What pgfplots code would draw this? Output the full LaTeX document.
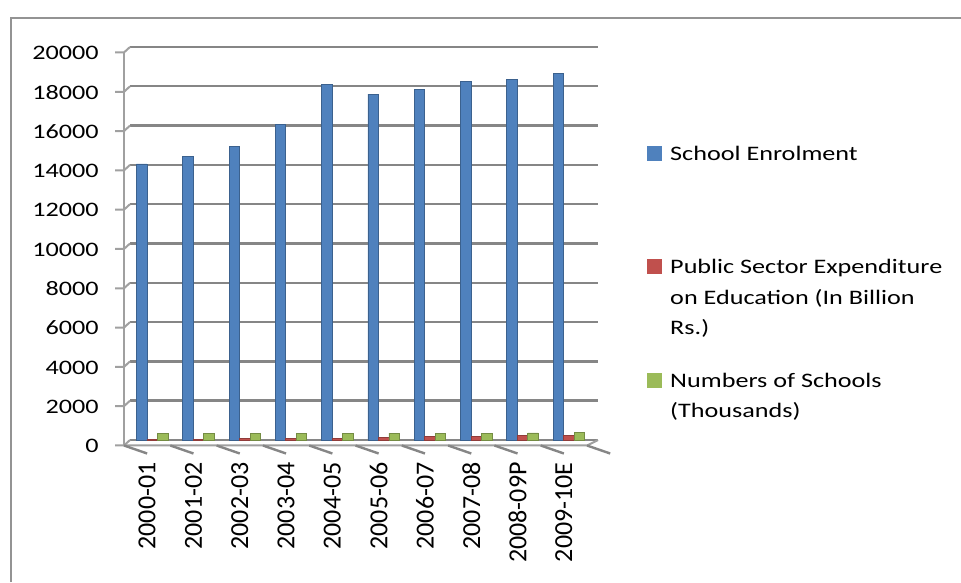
\documentclass[border=0pt]{standalone}
\usepackage{pgfplots}
\pgfplotsset{compat=1.18}
\usepackage{fontspec}
\setmainfont{Carlito}[FakeStretch=1.27]
\newfontfamily\xlabfont{Carlito}
\definecolor{eblue}{HTML}{4F81BD}
\definecolor{ered}{HTML}{C0504D}
\definecolor{egreen}{HTML}{9BBB59}
\definecolor{gridc}{RGB}{134,134,134}
\definecolor{axc}{RGB}{160,160,160}

\pgfplotstableread{
x enrol exp schools
0 14050 40 320
1 14450 50 325
2 14950 60 330
3 16050 80 335
4 18100 100 340
5 17600 120 345
6 17850 160 350
7 18250 200 355
8 18350 230 360
9 18650 250 365
}\datatable

\begin{document}
\begin{tikzpicture}
\useasboundingbox (0,0) rectangle (480.5pt,291pt);
\draw[gray!85, line width=0.8pt] (5.5pt,0) -- (5.5pt,282pt) -- (481pt,282pt);
\begin{axis}[
  at={(65pt,71pt)}, anchor=south west, scale only axis,
  width=234pt, height=196.5pt,
  xmin=-0.5, xmax=9.608, ymin=0, ymax=20000,
  clip=false,
  axis line style={draw=none},
  ytick={0,2000,4000,6000,8000,10000,12000,14000,16000,18000,20000},
  xtick={0,...,9},
  xticklabels={2000-01,2001-02,2002-03,2003-04,2004-05,2005-06,2006-07,2007-08,2008-09P,2009-10E},
  major tick length=0pt,
  tick style={draw=none},
  /pgf/number format/assume math mode=true,
  /pgf/number format/1000 sep={},
  scaled y ticks=false,
  yticklabel style={font=\fontsize{10.3}{12}\selectfont, inner sep=0pt, anchor=east, xshift=-15.5pt, yshift=-3pt},
  xticklabel style={font=\xlabfont\fontsize{13}{15}\selectfont, inner sep=0pt, xshift=-3pt, yshift=-11pt, rotate=90, anchor=east},
  ymajorgrids,
  grid style={gridc, line width=1.2pt},
  legend style={at={(1.1047,0.7532)}, anchor=north west, draw=none, fill=none, inner sep=0pt, row sep=0pt,
    nodes={anchor=base west, inner xsep=0pt, inner ysep=0pt, text height=8pt, text depth=48.75pt, font=\fontsize{10.3}{15.25}\selectfont},
    /tikz/every odd column/.append style={column sep=4pt}},
]
\addplot[ybar, bar width=5.25pt, bar shift=-5.75pt, fill=eblue, draw=eblue!75!black, line width=0.4pt,
  legend image code/.code={\fill[eblue] (0pt,0pt) rectangle (7pt,7pt);}]
  table[x=x, y=enrol] {\datatable};
\addlegendentry{\parbox[t]{150pt}{School Enrolment}}
\addplot[ybar, bar width=5.25pt, bar shift=-0.5pt, fill=ered, draw=ered!75!black, line width=0.4pt,
  legend image code/.code={\fill[ered] (0pt,0pt) rectangle (7pt,7pt);}]
  table[x=x, y=exp] {\datatable};
\addlegendentry{\parbox[t]{150pt}{Public Sector Expenditure\\on Education (In Billion\\Rs.)}}
\addplot[ybar, bar width=5.25pt, bar shift=4.75pt, fill=egreen, draw=egreen!75!black, line width=0.4pt,
  legend image code/.code={\fill[egreen] (0pt,0pt) rectangle (7pt,7pt);}]
  table[x=x, y=schools] {\datatable};
\addlegendentry{\parbox[t]{150pt}{Numbers of Schools\\(Thousands)}}
% front axis decorations (3D look)
\draw[axc, line width=1pt] ([xshift=-3pt,yshift=-2.75pt]axis cs:-0.5,0) -- ([xshift=-3pt,yshift=-2.75pt]axis cs:-0.5,20000);
\pgfplotsinvokeforeach{0,2000,4000,6000,8000,10000,12000,14000,16000,18000,20000}{
  \draw[axc, line width=1pt] ([xshift=-7.5pt,yshift=-2.75pt]axis cs:-0.5,#1) -- ([xshift=-3pt,yshift=-2.75pt]axis cs:-0.5,#1) -- (axis cs:-0.5,#1);
}
\draw[axc, line width=1pt] ([xshift=-3pt,yshift=-2.75pt]axis cs:-0.5,0) -- ([xshift=-3pt,yshift=-2.75pt]axis cs:9.5,0) -- (axis cs:9.608,0);
\pgfplotsinvokeforeach{-0.5,0.5,1.5,2.5,3.5,4.5,5.5,6.5,7.5,8.5,9.5}{
  \draw[gridc, line width=1.2pt] ([xshift=-3pt,yshift=-2.75pt]axis cs:#1,0) -- ++(0,-4pt);
}
\end{axis}
\end{tikzpicture}
\end{document}
